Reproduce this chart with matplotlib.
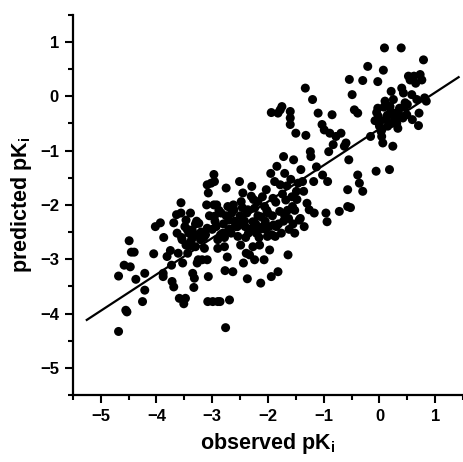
import matplotlib
matplotlib.use("Agg")
import matplotlib.pyplot as plt
import numpy as np
from matplotlib.ticker import MultipleLocator

observed = [
    -4.68, -4.68, -4.58, -4.47, -4.55, -4.53, -4.49, -4.45, -4.40, -4.37, -4.25, -4.21, -4.21,
    -4.05, -4.02, -3.93, -3.87, -3.88, -3.88, -3.81, -3.75, -3.73, -3.72, -3.69, -3.69, -3.64,
    -3.63, -3.61, -3.59, -3.56, -3.54, -3.53, -3.51, -3.48, -3.56, -3.49, -3.47, -3.44, -3.42,
    -3.39, -3.36, -3.35, -3.32, -3.30, -3.29, -3.27, -3.33, -3.25, -3.21, -3.18, -3.14, -3.09,
    -3.24, -3.47, -3.37, -3.08, -2.99, -2.90, -2.86, -3.07, -3.09, -3.10, -3.07, -3.09, -2.96,
    -2.97, -3.02, -2.97, -2.96, -2.93, -2.90, -2.90, -2.84, -2.81, -2.75, -2.78, -2.77, -2.73,
    -2.76, -2.72, -2.70, -2.66, -2.69, -2.63, -2.61, -2.57, -2.54, -2.51, -2.49, -2.48, -2.45,
    -2.44, -2.41, -2.39, -2.37, -2.36, -2.35, -2.33, -2.30, -2.29, -2.27, -2.27, -2.24, -2.24,
    -2.21, -2.18, -2.15, -2.13, -2.12, -2.09, -2.06, -2.07, -2.03, -2.01, -2.00, -1.97, -1.95,
    -1.94, -1.91, -1.90, -1.88, -1.87, -1.84, -1.82, -1.79, -1.78, -1.76, -1.75, -1.82, -1.94,
    -1.78, -1.72, -1.70, -1.68, -1.64, -1.63, -1.60, -1.60, -1.60, -1.59, -1.56, -1.54, -1.52,
    -1.50, -1.49, -1.44, -1.41, -1.38, -1.35, -1.33, -1.32, -1.30, -1.26, -1.24, -1.23, -1.20,
    -1.18, -1.17, -1.13, -1.10, -1.02, -1.03, -0.99, -0.96, -0.94, -0.93, -0.91, -0.89, -0.85,
    -0.83, -0.78, -0.72, -0.69, -0.63, -0.60, -0.57, -0.57, -0.55, -0.54, -0.49, -0.52, -0.45,
    -0.39, -0.39, -0.36, -0.30, -0.30, -0.21, -0.16, -0.06, -0.03, -0.03, -0.02, 0.00, 0.03,
    0.04, 0.06, 0.07, 0.09, 0.10, 0.12, 0.15, 0.18, 0.19, 0.21, 0.24, 0.25, 0.28, 0.30, 0.33,
    0.36, 0.39, 0.40, 0.42, 0.43, 0.46, 0.49, 0.52, 0.55, 0.58, 0.59, 0.62, 0.65, 0.67, 0.70,
    0.71, 0.73, 0.76, 0.79, 0.81, 0.84,
    # dense core
    -3.55, -3.45, -3.40, -3.35, -3.30, -3.20, -3.15, -3.05, -3.00, -2.95, -2.88, -2.85, -2.80,
    -2.75, -2.70, -2.65, -2.60, -2.55, -2.50, -2.46, -2.42, -2.38, -2.32, -2.26, -2.22, -2.18,
    -2.14, -2.10, -2.05, -2.02, -1.98, -1.92, -1.86, -1.81, -1.74, -1.70, -1.66, -1.62, -1.57,
    -1.52, -1.46, -1.42, -1.36, -3.38, -3.28, -3.12, -2.92, -2.78, -2.62, -2.52, -2.40, -2.28,
    -2.16, -2.04, -1.93, -1.85, -1.72, -1.65, -1.55, -1.48, -0.05, 0.02, 0.08, 0.14, 0.22,
    0.27, 0.34, 0.45, 0.50, 0.12, 0.20, 0.31, -0.08, 0.05,
]
predicted = [
    -4.33, -3.31, -3.11, -3.14, -3.94, -3.97, -2.66, -2.87, -2.87, -3.37, -3.78, -3.26, -3.57,
    -2.90, -2.40, -2.33, -2.60, -3.26, -3.32, -2.95, -2.84, -3.11, -3.41, -3.51, -2.33, -2.18,
    -2.52, -2.89, -3.72, -1.96, -2.64, -3.07, -3.82, -3.72, -2.15, -2.40, -2.74, -2.89, -2.52,
    -2.15, -2.46, -3.26, -3.35, -2.77, -2.55, -3.07, -3.52, -3.01, -2.64, -3.01, -2.80, -2.43,
    -2.34, -2.28, -2.64, -3.78, -3.78, -3.78, -3.78, -3.32, -3.01, -2.00, -1.78, -1.63, -1.57,
    -1.44, -1.60, -2.00, -2.21, -2.40, -2.64, -2.80, -2.15, -2.52, -1.69, -2.77, -3.21, -2.96,
    -4.26, -2.03, -2.28, -2.52, -3.75, -3.23, -2.09, -2.40, -2.58, -1.57, -2.74, -1.94, -1.78,
    -3.07, -2.40, -2.89, -3.36, -2.09, -2.52, -2.92, -1.84, -1.66, -2.31, -2.77, -3.01, -2.06,
    -2.52, -1.94, -2.74, -3.44, -2.22, -2.40, -2.03, -3.01, -1.72, -2.58, -2.15, -2.83, -1.42,
    -3.32, -1.88, -2.37, -1.57, -2.58, -1.29, -3.23, -2.12, -1.63, -2.52, -0.19, -0.31, -0.30,
    -0.25, -1.11, -1.42, -1.91, -2.92, -2.25, -0.28, -0.40, -0.52, -1.53, -2.03, -1.17, -2.52,
    -0.68, -1.75, -2.28, -1.35, -1.57, -2.40, 0.15, -0.72, -1.97, -2.09, -1.02, -1.11, -0.06,
    -1.57, -2.15, -1.30, -0.31, -1.45, -0.52, -0.62, -2.15, -2.31, -1.57, -1.02, -0.68, -0.34,
    -0.89, -0.74, -2.12, -0.68, -0.92, -0.86, -2.03, -1.72, -1.17, 0.31, 0.03, -2.05, -0.25,
    -0.31, -1.45, -1.60, -1.75, 0.29, 0.55, -0.74, -1.38, 0.27, -0.22, -0.37, -0.55, -0.65,
    -0.74, -0.86, 0.48, 0.89, -0.09, -0.43, -0.55, -1.35, -0.19, 0.09, -0.92, -0.06, -0.31,
    -0.43, -0.59, -0.22, 0.89, 0.15, -0.40, 0.06, -0.12, -0.34, 0.37, 0.30, 0.03, -0.43, 0.37,
    0.24, -0.06, -0.54, -0.31, 0.40, 0.30, 0.67, -0.03, -0.09,
    # dense core
    -2.60, -2.45, -2.70, -2.55, -2.35, -2.50, -2.60, -2.20, -2.45, -2.30, -2.10, -2.55, -2.35,
    -2.20, -2.45, -2.15, -2.30, -2.40, -2.20, -2.05, -2.30, -2.15, -2.45, -1.90, -2.35, -2.20,
    -2.45, -1.85, -2.30, -2.10, -2.40, -2.20, -1.95, -2.35, -1.80, -2.20, -1.65, -2.45, -1.85,
    -2.10, -1.60, -2.25, -1.75, -2.75, -2.30, -2.55, -2.00, -2.60, -2.00, -2.35, -2.60, -2.45,
    -2.60, -2.45, -2.55, -2.40, -2.30, -2.10, -2.35, -1.90, -0.30, -0.45, -0.20, -0.35, -0.50,
    -0.40, -0.30, -0.20, -0.15, -0.15, -0.30, -0.50, -0.45, -0.60,
]

fit_x = [-5.25, 1.42]
fit_slope = 0.67
fit_intercept = -0.60

plt.rcParams['font.family'] = ['Liberation Sans', 'DejaVu Sans']
plt.rcParams['mathtext.fontset'] = 'custom'
plt.rcParams['mathtext.rm'] = 'Liberation Sans:bold'
plt.rcParams['mathtext.bf'] = 'Liberation Sans:bold'

fig = plt.figure(figsize=(4.64, 4.62), dpi=100)
ax = fig.add_axes([0.157, 0.145, 0.841, 0.823])

ax.scatter(observed, predicted, s=42, c='black', edgecolors='none', zorder=2)
fx = np.array(fit_x)
ax.plot(fx, fit_slope * fx + fit_intercept, color='black', lw=1.6, zorder=3)

ax.set_xlim(-5.5, 1.5)
ax.set_ylim(-5.5, 1.5)
ax.xaxis.set_major_locator(MultipleLocator(1))
ax.xaxis.set_minor_locator(MultipleLocator(0.5))
ax.yaxis.set_major_locator(MultipleLocator(1))
ax.yaxis.set_minor_locator(MultipleLocator(0.5))
for s in ['top', 'right']:
    ax.spines[s].set_visible(False)
for s in ['left', 'bottom']:
    ax.spines[s].set_linewidth(1.6)
ax.tick_params(which='major', direction='out', length=6, width=1.5, labelsize=12, pad=4)
ax.tick_params(which='minor', direction='out', length=3.5, width=1.5)
for lab in ax.get_xticklabels() + ax.get_yticklabels():
    lab.set_fontweight('bold')

ax.set_xlabel(r'observed pK$_\mathrm{i}$', fontsize=15.5, fontweight='bold', labelpad=5)
ax.set_ylabel(r'predicted pK$_\mathrm{i}$', fontsize=15.5, fontweight='bold', labelpad=4)

fig.savefig('out.png', dpi=100)
